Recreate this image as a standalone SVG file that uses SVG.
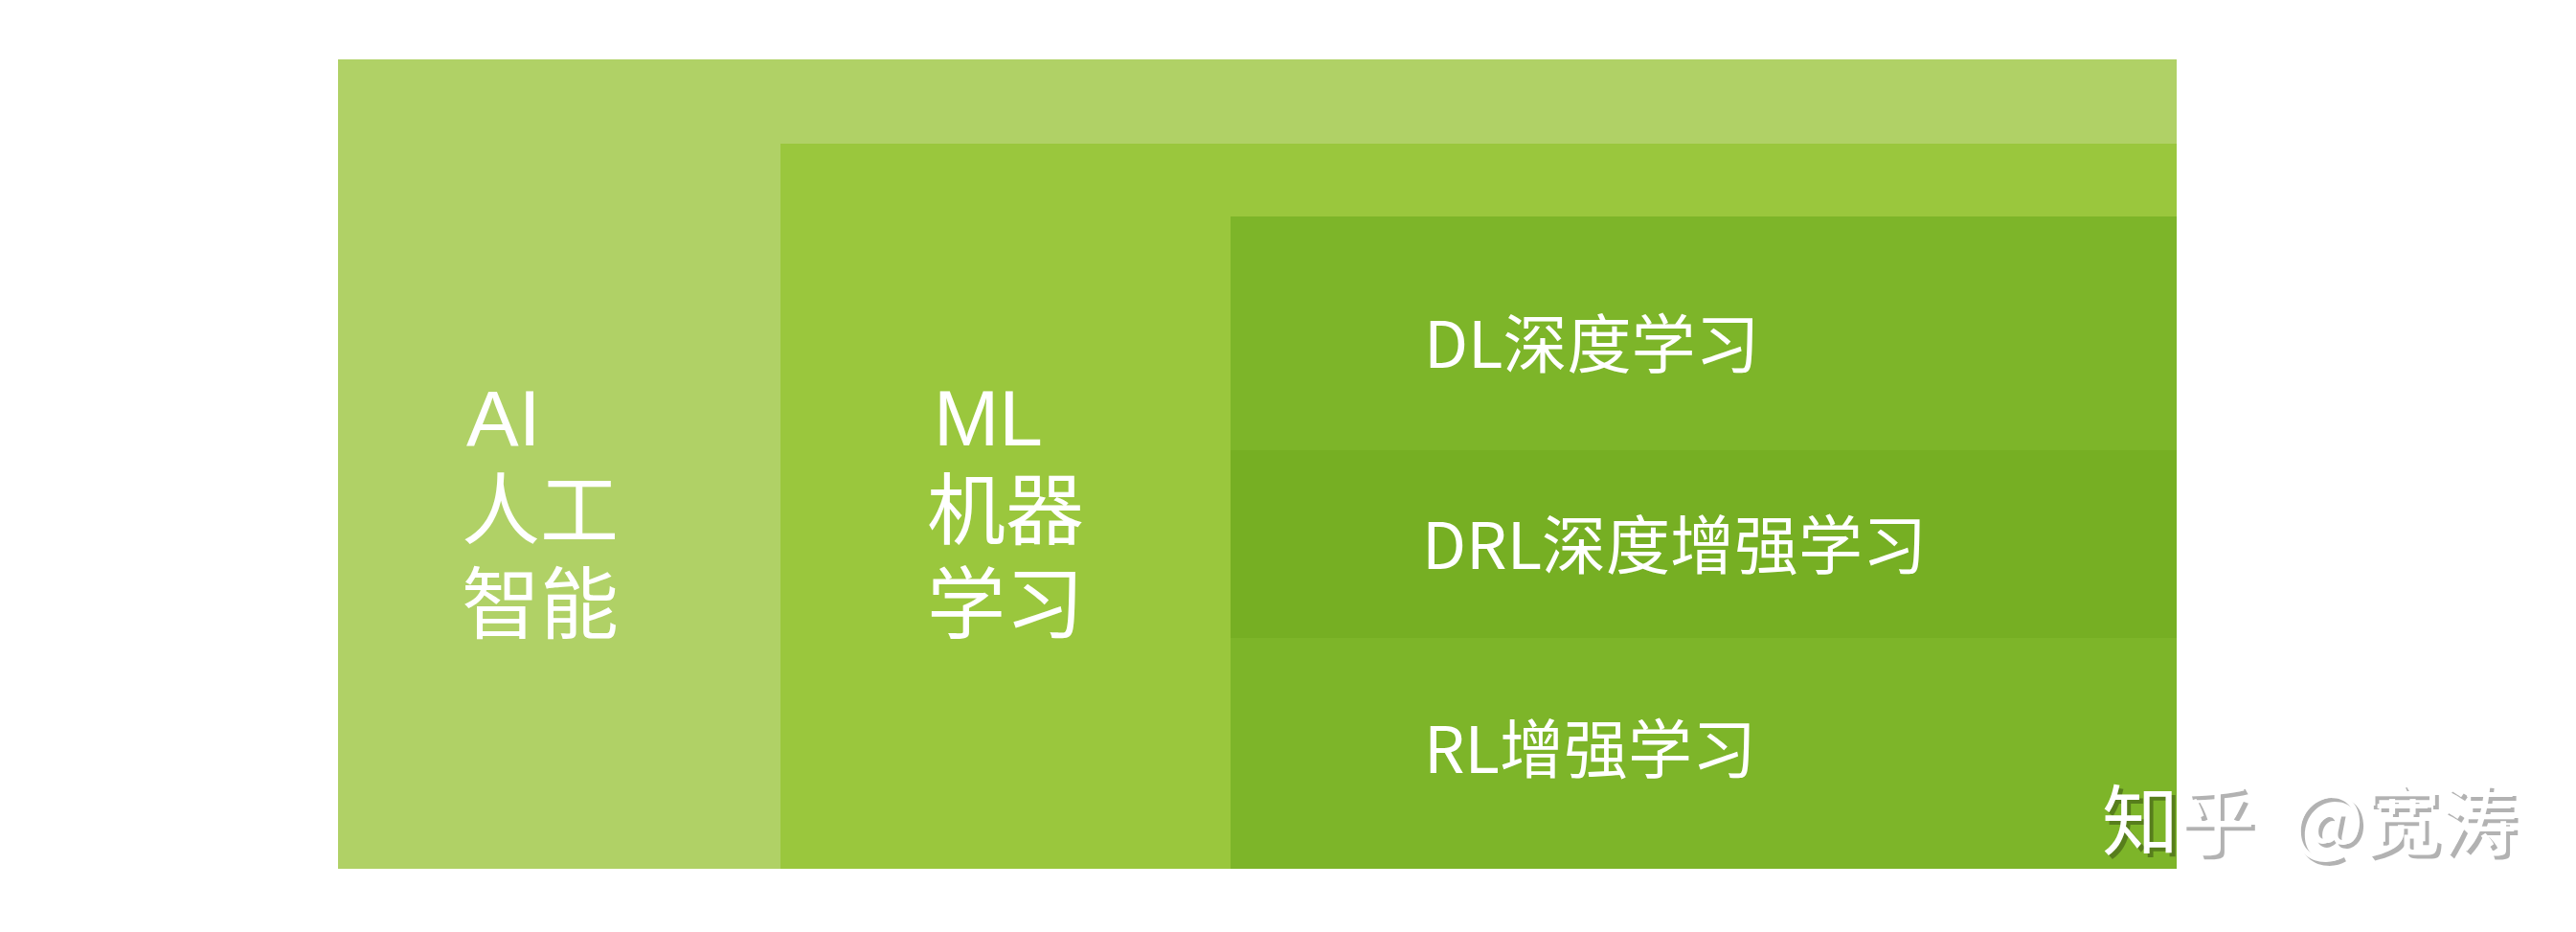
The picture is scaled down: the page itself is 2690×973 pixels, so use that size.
<svg xmlns="http://www.w3.org/2000/svg" width="2690" height="973" viewBox="0 0 2690 973">
  <style>
    .lbl { font-family: "Noto Sans CJK SC", "Noto Sans", sans-serif; fill: #FFFFFF; }
    .big { font-family: "Liberation Sans", "Noto Sans CJK SC", sans-serif; font-size: 82px; fill: #FFFFFF; }
    .mid { font-size: 67px; }
    .wm { font-family: "Noto Sans CJK SC", "Noto Sans", sans-serif; font-size: 80px; }
  </style>
  <rect x="0" y="0" width="2690" height="973" fill="#FFFFFF"/>
  <g id="node-ai">
    <rect x="353" y="62" width="1920" height="845" fill="#B0D166"/>
    <text class="big" x="487" y="465">AI</text>
    <text class="big" x="482" y="562">人工</text>
    <text class="big" x="482" y="660">智能</text>
  </g>
  <g id="node-ml">
    <rect x="815" y="150" width="1458" height="757" fill="#9AC73D"/>
    <text class="big" x="975" y="465">ML</text>
    <text class="big" x="968" y="562">机器</text>
    <text class="big" x="968" y="660">学习</text>
  </g>
  <g id="node-dl">
    <rect x="1285" y="226" width="988" height="244" fill="#7DB529"/>
    <text class="lbl mid" x="1487" y="384">DL深度学习</text>
  </g>
  <g id="node-drl">
    <rect x="1285" y="470" width="988" height="196" fill="#76AF23"/>
    <text class="lbl mid" x="1485" y="594">DRL深度增强学习</text>
  </g>
  <g id="node-rl">
    <rect x="1285" y="666" width="988" height="241" fill="#7DB529"/>
    <text class="lbl mid" x="1487" y="807">RL增强学习</text>
  </g>
  <g id="connectors"></g>
  <g id="watermark">
    <g fill="#000000" fill-opacity="0.3">
      <text class="wm" x="2199" y="890">知乎</text>
      <text class="wm" x="2397" y="890">@宽涛</text>
    </g>
    <g fill="#FFFFFF">
      <text class="wm" x="2195" y="886">知乎</text>
      <text class="wm" x="2393" y="886">@宽涛</text>
    </g>
  </g>
</svg>
